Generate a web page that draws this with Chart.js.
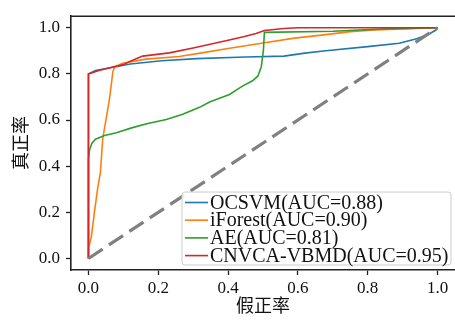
<!DOCTYPE html>
<html lang="zh">
<head>
<meta charset="UTF-8">
<title>ROC</title>
<style>
  html, body { margin: 0; padding: 0; background: #fff; }
  .chart-container { position: relative; width: 455px; height: 321px; }
</style>
</head>
<body>
<div class="chart-container"><canvas id="rocChart"></canvas></div>
<script src="https://cdn.jsdelivr.net/npm/chart.js"></script>
<script>
// ROC curves (false positive rate -> true positive rate)
const ocsvmFpr = [0, 0, 0.02, 0.07, 0.12, 0.21, 0.31, 0.45, 0.56, 0.62, 0.68, 0.80, 0.89, 0.94, 0.975, 0.995, 1];
const ocsvmTpr = [0, 0.80, 0.815, 0.829, 0.843, 0.857, 0.866, 0.873, 0.877, 0.89, 0.90, 0.918, 0.933, 0.952, 0.972, 0.99, 1];

const iforestFpr = [0, 0, 0.008, 0.017, 0.027, 0.034, 0.041, 0.06, 0.07, 0.075, 0.098, 0.165, 0.26, 0.32, 0.40, 0.50, 0.59, 0.68, 0.75, 0.82, 1];
const iforestTpr = [0, 0.045, 0.09, 0.20, 0.31, 0.37, 0.52, 0.69, 0.81, 0.83, 0.846, 0.864, 0.875, 0.89, 0.91, 0.934, 0.955, 0.97, 0.983, 0.99, 1];

const aeFpr = [0, 0, 0.003, 0.01, 0.02, 0.046, 0.08, 0.126, 0.17, 0.223, 0.27, 0.318, 0.347, 0.404, 0.441, 0.47, 0.485, 0.495, 0.501, 0.504, 0.70, 0.85, 1];
const aeTpr = [0, 0.43, 0.47, 0.50, 0.517, 0.533, 0.545, 0.567, 0.585, 0.602, 0.625, 0.655, 0.678, 0.711, 0.747, 0.77, 0.79, 0.83, 0.90, 0.98, 0.985, 0.995, 1];

const cnvcaFpr = [0, 0, 0.03, 0.07, 0.10, 0.117, 0.155, 0.232, 0.30, 0.40, 0.447, 0.48, 0.504, 0.56, 0.60, 1];
const cnvcaTpr = [0, 0.80, 0.815, 0.83, 0.84, 0.853, 0.877, 0.891, 0.912, 0.946, 0.962, 0.975, 0.988, 0.997, 1, 1];

const chanceLine = [0, 1];

const seriesLabels = ['OCSVM(AUC=0.88)', 'iForest(AUC=0.90)', 'AE(AUC=0.81)', 'CNVCA-VBMD(AUC=0.95)'];
const seriesColors = ['#1f77b4', '#ff7f0e', '#2ca02c', '#d62728'];
const tickValues = [0, 0.2, 0.4, 0.6, 0.8, 1.0];

function toPoints(xs, ys) {
    return xs.map((x, i) => ({ x: x, y: ys[i] }));
}

const curves = [
    toPoints(ocsvmFpr, ocsvmTpr),
    toPoints(iforestFpr, iforestTpr),
    toPoints(aeFpr, aeTpr),
    toPoints(cnvcaFpr, cnvcaTpr)
];

const datasets = curves.map((pts, i) => ({
    label: seriesLabels[i],
    data: pts,
    borderColor: seriesColors[i],
    borderWidth: 1.6,
    order: 5 - i
}));
datasets.push({
    label: '',
    data: toPoints(chanceLine, chanceLine),
    borderColor: '#808080',
    borderWidth: 3.2,
    borderDash: [17, 7.5],
    order: 0
});

// legend box drawn inside the plot, bottom right
const innerLegend = {
    id: 'innerLegend',
    afterDatasetsDraw(chart) {
        const ctx = chart.ctx;
        const area = chart.chartArea;
        const w = 269, h = 73;
        const x0 = area.right - w - 4, y0 = area.bottom - h - 5;
        ctx.save();
        ctx.beginPath();
        ctx.roundRect(x0, y0, w, h, 3);
        ctx.fillStyle = 'rgba(255,255,255,0.85)';
        ctx.fill();
        ctx.strokeStyle = '#cccccc';
        ctx.lineWidth = 1;
        ctx.stroke();
        ctx.font = "20px 'Liberation Serif', serif";
        ctx.textBaseline = 'middle';
        seriesLabels.forEach((lbl, i) => {
            const yy = y0 + 10.5 + i * 17.7;
            ctx.strokeStyle = seriesColors[i];
            ctx.lineWidth = 1.6;
            ctx.beginPath();
            ctx.moveTo(x0 + 3, yy);
            ctx.lineTo(x0 + 26, yy);
            ctx.stroke();
            ctx.fillStyle = '#111';
            ctx.fillText(lbl, x0 + 28, yy + 1);
        });
        ctx.restore();
    },
    afterDraw(chart) {
        // top spine
        const ctx = chart.ctx;
        const area = chart.chartArea;
        ctx.save();
        ctx.strokeStyle = '#222';
        ctx.lineWidth = 1.6;
        ctx.beginPath();
        ctx.moveTo(area.left, area.top);
        ctx.lineTo(area.right, area.top);
        ctx.stroke();
        ctx.restore();
    }
};

const fontFamily = "'Liberation Serif', 'Noto Sans CJK SC', serif";

new Chart(document.getElementById('rocChart'), {
    type: 'scatter',
    data: { datasets: datasets },
    options: {
        responsive: true,
        maintainAspectRatio: false,
        devicePixelRatio: 1,
        animation: false,
        showLine: true,
        elements: { point: { radius: 0 }, line: { tension: 0 } },
        layout: { padding: { top: 6, right: 0, left: 0, bottom: 0 } },
        plugins: {
            legend: { display: false },
            tooltip: { enabled: false }
        },
        scales: {
            x: {
                type: 'linear',
                min: -0.05,
                max: 1.05,
                afterBuildTicks: (scale) => { scale.ticks = tickValues.map(v => ({ value: v })); },
                afterFit: (scale) => { scale.height = 51; },
                grid: { drawOnChartArea: false, drawTicks: true, tickLength: 5, tickColor: '#222', tickWidth: 1.3 },
                border: { color: '#222', width: 1.6 },
                ticks: {
                    color: '#111',
                    padding: 3,
                    maxRotation: 0,
                    font: { family: fontFamily, size: 17 },
                    callback: (v) => v.toFixed(1)
                },
                title: {
                    display: true,
                    text: '假正率',
                    color: '#111',
                    font: { family: fontFamily, size: 18 },
                    padding: { top: 0, bottom: 3 }
                }
            },
            y: {
                type: 'linear',
                min: -0.05,
                max: 1.05,
                afterBuildTicks: (scale) => { scale.ticks = tickValues.map(v => ({ value: v })); },
                afterFit: (scale) => { scale.width = 71; },
                grid: { drawOnChartArea: false, drawTicks: true, tickLength: 5, tickColor: '#222', tickWidth: 1.3 },
                border: { color: '#222', width: 1.6 },
                ticks: {
                    color: '#111',
                    padding: 6,
                    font: { family: fontFamily, size: 17 },
                    callback: (v) => v.toFixed(1)
                },
                title: {
                    display: true,
                    text: '真正率',
                    color: '#111',
                    font: { family: fontFamily, size: 18 },
                    padding: { top: 11, bottom: 0 }
                }
            }
        }
    },
    plugins: [innerLegend]
});
</script>
</body>
</html>
